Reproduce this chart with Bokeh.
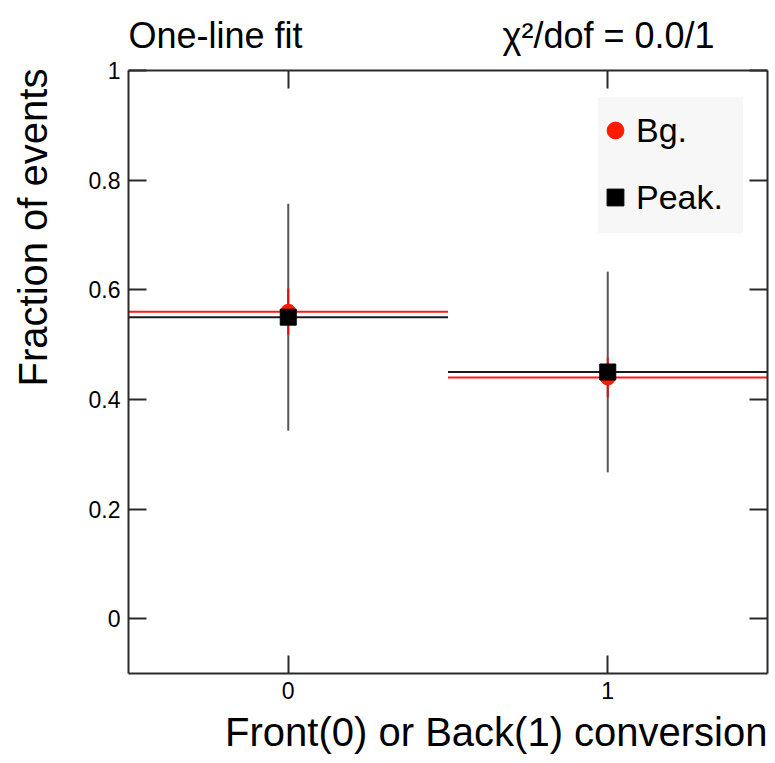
from bokeh.plotting import figure
from bokeh.models import (LinearAxis, FixedTicker, NumeralTickFormatter, Title,
                          Range1d, Legend, LegendItem, ColumnDataSource, BoxAnnotation)
from bokeh.embed import file_html
from bokeh.resources import INLINE

# ---- data ----
categories = [0, 1]                 # Front(0) / Back(1)
bg_frac = [0.56, 0.44]
bg_err = [0.042, 0.036]
peak_frac = [0.55, 0.45]
peak_err = [0.207, 0.183]
x_ticks = [0, 1]
y_ticks = [0, 0.2, 0.4, 0.6, 0.8, 1.0]
title_left = "One-line fit"
title_right = "χ²/dof = 0.0/1"
x_title = "Front(0) or Back(1) conversion"
y_title = "Fraction of events"
series_names = ["Bg.", "Peak."]

FONT = "Liberation Sans"
AXC = "#2a2a2a"
NBSP = "\u00a0"

half = 0.5
src = ColumnDataSource(dict(
    x=categories,
    x0=[c - half for c in categories],
    x1=[c + half for c in categories],
    bg=bg_frac,
    bg_lo=[v - e for v, e in zip(bg_frac, bg_err)],
    bg_hi=[v + e for v, e in zip(bg_frac, bg_err)],
    pk=peak_frac,
    pk_lo=[v - e for v, e in zip(peak_frac, peak_err)],
    pk_hi=[v + e for v, e in zip(peak_frac, peak_err)],
))

p = figure(width=775, height=763,
           x_range=Range1d(-0.5, 1.5), y_range=Range1d(-0.1, 1.0),
           output_backend="svg", toolbar_location=None,
           x_axis_location=None, y_axis_location=None,
           min_border_left=128, min_border_right=8,
           min_border_top=70, min_border_bottom=90)
p.xgrid.grid_line_color = None
p.ygrid.grid_line_color = None
p.outline_line_color = None
p.background_fill_color = "white"
p.border_fill_color = "white"


def make_axis(ticks, labels, fmt=None):
    ax = LinearAxis(ticker=FixedTicker(ticks=ticks))
    if fmt is not None:
        ax.formatter = fmt
    ax.axis_line_color = AXC
    ax.axis_line_width = 2
    ax.major_tick_line_color = AXC
    ax.major_tick_line_width = 2
    ax.major_tick_in = 18
    ax.major_tick_out = 0
    ax.minor_tick_line_color = None
    ax.major_label_text_font = FONT
    ax.major_label_text_color = "black"
    if labels:
        ax.major_label_text_font_size = "23px"
        ax.major_label_standoff = 8
    else:
        ax.major_label_text_font_size = "0px"
        ax.major_label_standoff = 0
        ax.major_label_text_alpha = 0
    return ax


fmt = NumeralTickFormatter(format="0.[0]")
p.add_layout(make_axis(x_ticks, True, fmt), "below")
yl = make_axis(y_ticks, True, fmt)
# y title pushed toward the top end of the axis (ROOT style) with leading spaces
yl.axis_label = NBSP * 26 + y_title
yl.axis_label_text_font = FONT
yl.axis_label_text_font_size = "40px"
yl.axis_label_text_font_style = "normal"
yl.axis_label_text_color = "black"
yl.axis_label_standoff = 31
p.add_layout(yl, "left")
p.add_layout(make_axis(x_ticks, False), "above")
p.add_layout(make_axis(y_ticks, False), "right")

# x title, right-aligned at the axis end
p.add_layout(Title(text=x_title, align="right", text_font=FONT,
                   text_font_size="40px", text_font_style="normal",
                   text_color="black", standoff=12, offset=0), "below")

# title line: left text, gap, right text
gap = NBSP * 20
p.add_layout(Title(text=title_left + gap + title_right, align="left",
                   vertical_align="top",
                   text_font=FONT, text_font_size="36px",
                   text_font_style="normal", text_color="black",
                   standoff=26, offset=0), "above")

# fit lines (one per bin)
p.segment(x0="x0", y0="bg", x1="x1", y1="bg", source=src,
          line_color="#ff1a1a", line_width=2)
p.segment(x0="x0", y0="pk", x1="x1", y1="pk", source=src,
          line_color="#1a1a1a", line_width=2)
# error bars
p.segment(x0="x", y0="pk_lo", x1="x", y1="pk_hi", source=src,
          line_color="#555555", line_width=2)
p.segment(x0="x", y0="bg_lo", x1="x", y1="bg_hi", source=src,
          line_color="#e01010", line_width=2)
# markers
r_bg = p.scatter(x="x", y="bg", source=src, marker="circle", size=15,
                 fill_color="#ff1a00", line_color="#ff1a00")
r_pk = p.scatter(x="x", y="pk", source=src, marker="square", size=16,
                 fill_color="black", line_color="black")

# legend panel background
p.add_layout(BoxAnnotation(left=0.969, right=1.423, top=0.951, bottom=0.703,
                           fill_color="#f7f7f7", fill_alpha=1.0,
                           line_color=None, level="underlay"))

legend = Legend(items=[LegendItem(label=series_names[0], renderers=[r_bg]),
                       LegendItem(label=series_names[1], renderers=[r_pk])],
                location=(466, 455))
legend.glyph_width = 42
legend.glyph_height = 42
legend.label_text_font = FONT
legend.label_text_font_size = "34px"
legend.label_text_color = "black"
legend.label_standoff = -2
legend.padding = 0
legend.spacing = 25
legend.margin = 0
legend.background_fill_alpha = 0
legend.border_line_color = None
p.add_layout(legend)

open("out.html", "w").write(file_html(p, INLINE))
